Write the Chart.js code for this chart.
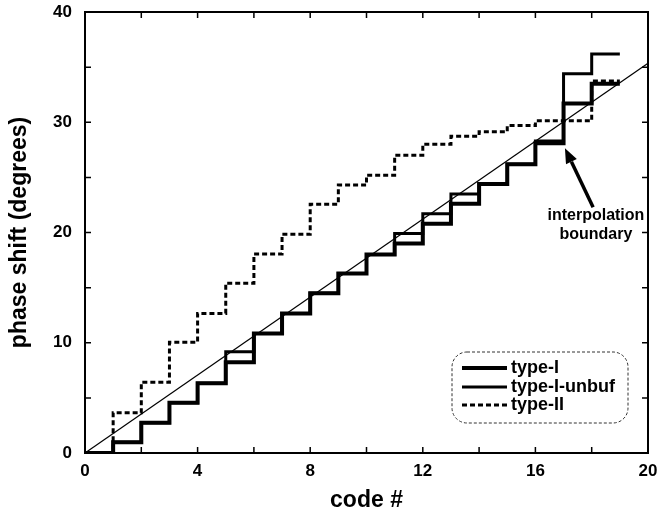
<!DOCTYPE html>
<html>
<head>
<meta charset="utf-8">
<script src="https://cdn.jsdelivr.net/npm/chart.js@4.4.0/dist/chart.umd.min.js"></script>
<style>
  html, body { margin: 0; padding: 0; background: #fff; }
  canvas { display: block; }
</style>
</head>
<body>
<canvas id="phaseChart" width="661" height="517"></canvas>
<script>
// step edges (code #) and the level each series holds between code k and k+1
const codes = [0, 1, 2, 3, 4, 5, 6, 7, 8, 9, 10, 11, 12, 13, 14, 15, 16, 17, 18, 19];
const typeI = [0, 0.97, 2.75, 4.56, 6.32, 8.22, 10.85, 12.66, 14.48, 16.29, 18.01, 19.0, 20.8, 22.6, 24.4, 26.2, 28.1, 31.7, 33.5];
const typeIUnbuf = [0, 0.97, 2.75, 4.56, 6.32, 9.18, 10.85, 12.66, 14.48, 16.29, 18.01, 19.9, 21.7, 23.5, 24.4, 26.2, 28.3, 34.4, 36.2];
const typeII = [0, 3.66, 6.41, 10.04, 12.66, 15.4, 18.04, 19.83, 22.57, 24.3, 25.2, 27.0, 28.0, 28.74, 29.13, 29.7, 30.13, 30.13, 33.75];
const idealCodes = [0, 20];
const idealShift = [0, 35.36];

const xTickLabels = [0, 4, 8, 12, 16, 20];
const yTickLabels = [0, 10, 20, 30, 40];
const xMinorTicks = [0, 2, 4, 6, 8, 10, 12, 14, 16, 18, 20];
const yMinorTicks = [0, 5, 10, 15, 20, 25, 30, 35, 40];

const FONT = '"Liberation Sans", Arial, Helvetica, sans-serif';

function stepPoints(levels) {
  const pts = levels.map((v, i) => ({ x: codes[i], y: v }));
  // close the last step at the next code edge
  pts.push({ x: codes[levels.length], y: levels[levels.length - 1] });
  return pts;
}

// frame, inward ticks, legend box and arrow note
const decorations = {
  id: "decorations",
  afterDraw(chart) {
    const ctx = chart.ctx;
    const area = chart.chartArea;
    const xs = chart.scales.x;
    const ys = chart.scales.y;
    ctx.save();
    ctx.strokeStyle = "#000";

    // box
    ctx.lineWidth = 2;
    ctx.strokeRect(area.left, area.top, area.right - area.left, area.bottom - area.top);

    // inward minor ticks on all four sides
    ctx.lineWidth = 1.5;
    ctx.beginPath();
    xMinorTicks.forEach((v) => {
      const px = xs.getPixelForValue(v);
      ctx.moveTo(px, area.bottom);
      ctx.lineTo(px, area.bottom - 6);
      ctx.moveTo(px, area.top);
      ctx.lineTo(px, area.top + 6);
    });
    yMinorTicks.forEach((v) => {
      const py = ys.getPixelForValue(v);
      ctx.moveTo(area.left, py);
      ctx.lineTo(area.left + 6, py);
      ctx.moveTo(area.right, py);
      ctx.lineTo(area.right - 6, py);
    });
    ctx.stroke();

    // arrow to the interpolation boundary
    const tipX = xs.getPixelForValue(17.05), tipY = ys.getPixelForValue(27.65);
    const tailX = xs.getPixelForValue(18.05), tailY = ys.getPixelForValue(22.3);
    const ang = Math.atan2(tipY - tailY, tipX - tailX);
    const headLen = 15, headW = 6;
    const baseX = tipX - headLen * Math.cos(ang), baseY = tipY - headLen * Math.sin(ang);
    ctx.lineWidth = 3.5;
    ctx.beginPath();
    ctx.moveTo(tailX, tailY);
    ctx.lineTo(baseX, baseY);
    ctx.stroke();
    ctx.fillStyle = "#000";
    ctx.beginPath();
    ctx.moveTo(tipX, tipY);
    ctx.lineTo(baseX + headW * Math.sin(ang), baseY - headW * Math.cos(ang));
    ctx.lineTo(baseX - headW * Math.sin(ang), baseY + headW * Math.cos(ang));
    ctx.closePath();
    ctx.fill();

    ctx.font = "bold 16px " + FONT;
    ctx.textAlign = "center";
    ctx.textBaseline = "middle";
    ctx.fillText("interpolation", xs.getPixelForValue(18.15), ys.getPixelForValue(21.5));
    ctx.fillText("boundary", xs.getPixelForValue(18.15), ys.getPixelForValue(19.85));

    // legend
    const bx = 452, by = 352, bw = 176, bh = 71, r = 15;
    ctx.lineWidth = 1;
    ctx.strokeStyle = "#333";
    ctx.setLineDash([3, 2]);
    ctx.beginPath();
    ctx.roundRect(bx, by, bw, bh, r);
    ctx.stroke();
    ctx.setLineDash([]);

    const rows = [368, 387, 405];
    ctx.font = "bold 18px " + FONT;
    ctx.textAlign = "left";
    chart.data.datasets.forEach((ds, i) => {
      if (ds.label === "ideal") return;
      const row = rows[i - 1];
      ctx.strokeStyle = "#000";
      ctx.lineWidth = ds.borderWidth;
      ctx.setLineDash(ds.borderDash || []);
      ctx.beginPath();
      ctx.moveTo(462, row);
      ctx.lineTo(507, row);
      ctx.stroke();
      ctx.setLineDash([]);
      ctx.fillText(ds.label, 511, row);
    });
    ctx.restore();
  }
};

const ctx = document.getElementById("phaseChart").getContext("2d");
new Chart(ctx, {
  type: "line",
  data: {
    datasets: [
      {
        label: "ideal",
        data: idealCodes.map((c, i) => ({ x: c, y: idealShift[i] })),
        borderColor: "#000",
        borderWidth: 1.2,
        order: 4,
      },
      {
        label: "type-I",
        data: stepPoints(typeI),
        borderColor: "#000",
        borderWidth: 4,
        stepped: "before",
        order: 1,
      },
      {
        label: "type-I-unbuf",
        data: stepPoints(typeIUnbuf),
        borderColor: "#000",
        borderWidth: 3,
        stepped: "before",
        order: 2,
      },
      {
        label: "type-II",
        data: stepPoints(typeII),
        borderColor: "#000",
        borderWidth: 3,
        borderDash: [5, 3],
        stepped: "before",
        order: 3,
      },
    ],
  },
  options: {
    responsive: false,
    animation: false,
    layout: { padding: { top: 12, right: 13, left: 0, bottom: 0 } },
    plugins: {
      legend: { display: false },
      tooltip: { enabled: false },
    },
    elements: {
      point: { radius: 0 },
      line: { tension: 0, fill: false, borderJoinStyle: "miter", borderCapStyle: "butt" },
    },
    scales: {
      x: {
        type: "linear",
        min: 0,
        max: 20,
        afterBuildTicks: (s) => { s.ticks = xTickLabels.map((v) => ({ value: v })); },
        afterFit: (s) => { s.height = 64; s.paddingLeft = 0; s.paddingRight = 0; },
        grid: { display: false, drawTicks: false },
        border: { display: false },
        ticks: { color: "#000", padding: 8, maxRotation: 0, font: { family: FONT, size: 17, weight: "bold" } },
        title: {
          display: true,
          text: "code #",
          color: "#000",
          font: { family: FONT, size: 23, weight: "bold" },
          padding: { top: 0, bottom: 3 },
        },
      },
      y: {
        type: "linear",
        min: 0,
        max: 40,
        afterBuildTicks: (s) => { s.ticks = yTickLabels.map((v) => ({ value: v })); },
        afterFit: (s) => { s.width = 85; s.paddingTop = 0; s.paddingBottom = 0; },
        grid: { display: false, drawTicks: false },
        border: { display: false },
        ticks: { color: "#000", padding: 13, font: { family: FONT, size: 17, weight: "bold" } },
        title: {
          display: true,
          text: "phase shift (degrees)",
          color: "#000",
          font: { family: FONT, size: 23, weight: "bold" },
          padding: { top: 6, bottom: 0 },
        },
      },
    },
  },
  plugins: [decorations],
});
</script>
</body>
</html>
